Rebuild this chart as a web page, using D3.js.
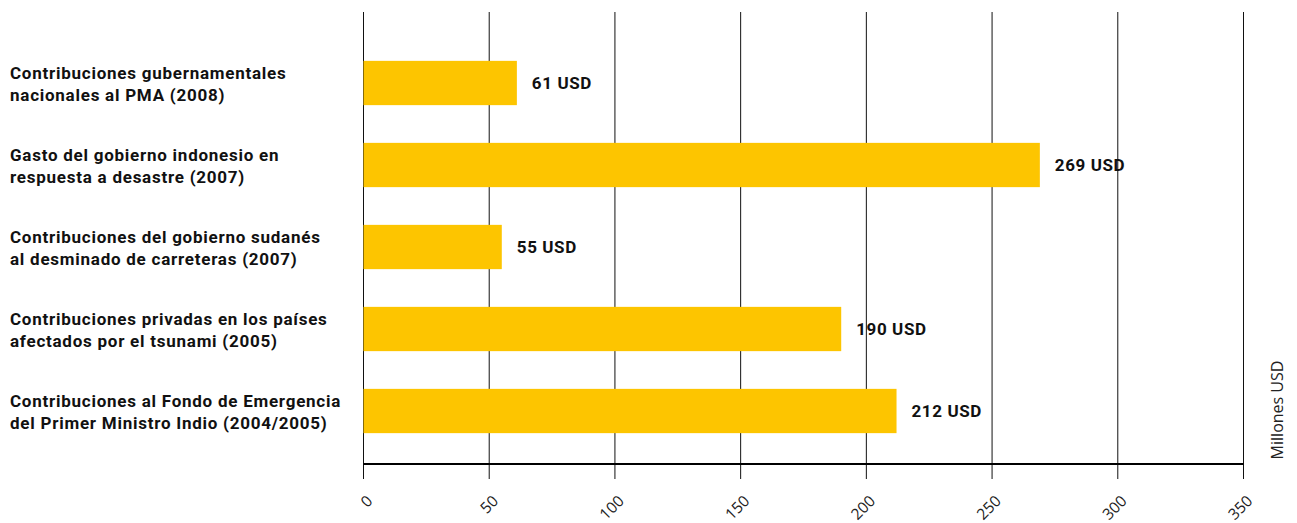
<!DOCTYPE html>
<html><head><meta charset="utf-8">
<script src="https://cdn.jsdelivr.net/npm/d3@7"></script>
<style>body{margin:0;background:#fff}</style>
</head><body>
<svg id="c" width="1297" height="523"></svg>
<script>
const categories = [
  ["Contribuciones gubernamentales", "nacionales al PMA (2008)"],
  ["Gasto del gobierno indonesio en", "respuesta a desastre (2007)"],
  ["Contribuciones del gobierno sudanés", "al desminado de carreteras (2007)"],
  ["Contribuciones privadas en los países", "afectados por el tsunami (2005)"],
  ["Contribuciones al Fondo de Emergencia", "del Primer Ministro Indio (2004/2005)"]
];
const values = [61, 269, 55, 190, 212];
const valueLabels = ["61 USD", "269 USD", "55 USD", "190 USD", "212 USD"];
const ticks = [0, 50, 100, 150, 200, 250, 300, 350];
const axisTitle = "Millones USD";

const svg = d3.select("#c");
const x = d3.scaleLinear().domain([0, 350]).range([363.5, 1243.5]);
const y = d3.scaleBand().domain(d3.range(values.length)).range([42, 452]).paddingInner(0.46).paddingOuter(0.23);

// gridlines
svg.append("g").selectAll("line").data(ticks).join("line")
  .attr("x1", d => x(d)).attr("x2", d => x(d))
  .attr("y1", 12).attr("y2", 479)
  .attr("stroke", "#111").attr("stroke-width", 1);

// bars
svg.append("g").selectAll("rect").data(values).join("rect")
  .attr("x", x(0)).attr("y", (d, i) => y(i))
  .attr("width", d => x(d) - x(0)).attr("height", y.bandwidth())
  .attr("fill", "#FDC500");

// axis line
svg.append("line").attr("x1", x(0)).attr("x2", x(350)).attr("y1", 464).attr("y2", 464)
  .attr("stroke", "#000").attr("stroke-width", 2);

// tick labels
svg.append("g").selectAll("text").data(ticks).join("text")
  .attr("transform", d => `translate(${x(d) + 10},${502}) rotate(-45)`)
  .attr("text-anchor", "end")
  .attr("font-family", "Open Sans, sans-serif").attr("font-size", 15.5).attr("fill", "#222")
  .text(d => d);

// value labels
svg.append("g").selectAll("text").data(values).join("text")
  .attr("x", d => x(d) + 15).attr("y", (d, i) => y(i) + y.bandwidth() / 2 + 6)
  .attr("font-family", "Roboto, sans-serif").attr("font-weight", 700).attr("font-size", 17)
  .attr("letter-spacing", 0.6)
  .attr("fill", "#111")
  .text((d, i) => valueLabels[i]);

// category labels
const cat = svg.append("g").selectAll("text").data(categories).join("text")
  .attr("font-family", "Roboto, sans-serif").attr("font-weight", 700).attr("font-size", 17)
  .attr("letter-spacing", 0.75)
  .attr("fill", "#111");
cat.each(function(d, i) {
  const t = d3.select(this);
  const cy = y(i) + y.bandwidth() / 2;
  d.forEach((line, k) => {
    t.append("tspan").attr("x", 10).attr("y", cy - 4.5 + k * 22.5).text(line);
  });
});

// axis title
svg.append("text").attr("transform", "translate(1283,410) rotate(-90)")
  .attr("text-anchor", "middle")
  .attr("font-family", "Open Sans, sans-serif").attr("font-size", 16).attr("fill", "#222")
  .text(axisTitle);
</script>
</body></html>
